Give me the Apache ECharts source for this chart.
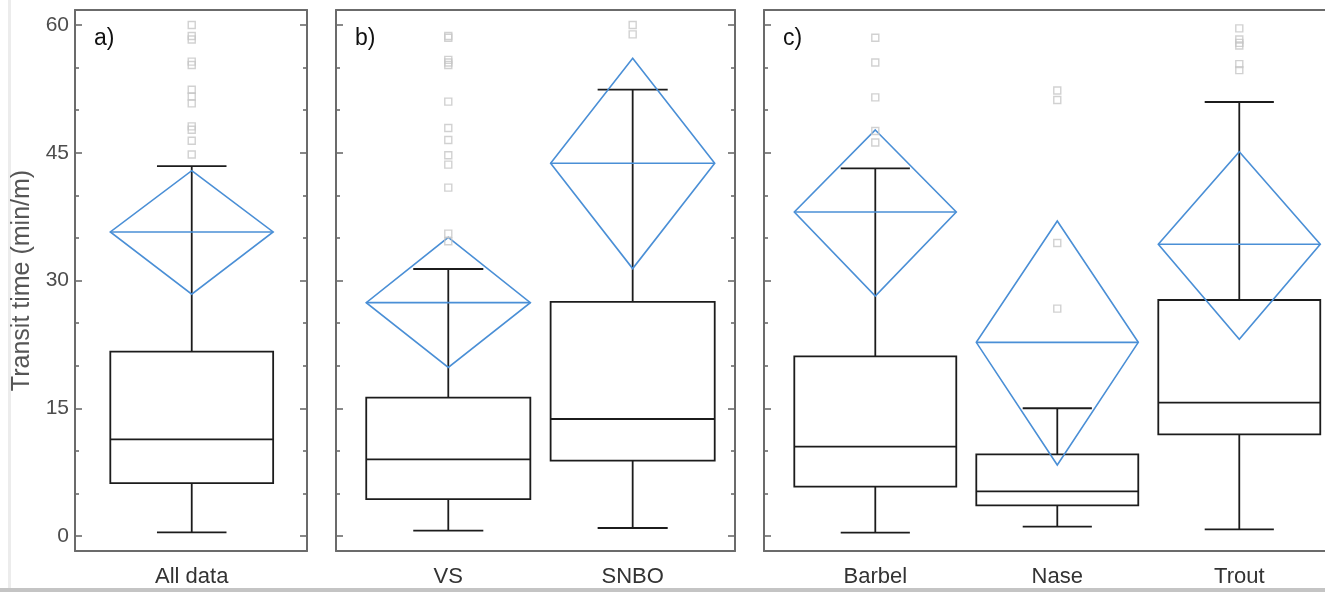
<!DOCTYPE html>
<html>
<head>
<meta charset="utf-8">
<title>Transit time</title>
<script src="https://cdn.jsdelivr.net/npm/echarts@6/dist/echarts.min.js"></script>
<style>
  html, body { margin: 0; padding: 0; background: #fff; }
  #chart { width: 1325px; height: 592px; }
</style>
</head>
<body>
<div id="chart"></div>
<script>
// ---- data ----
const catsA = ['All data']
const catsB = ['VS', 'SNBO']
const catsC = ['Barbel', 'Nase', 'Trout']

// box stats: [whisker low, Q1, median, Q3, whisker high]
const boxAll = [0.43, 6.22, 11.35, 21.64, 43.44]
const boxVS = [0.63, 4.34, 9.0, 16.24, 31.35]
const boxSNBO = [0.94, 8.85, 13.74, 27.5, 52.4]
const boxBarbel = [0.39, 5.79, 10.49, 21.1, 43.17]
const boxNase = [1.1, 3.6, 5.25, 9.59, 15.0]
const boxTrout = [0.79, 11.94, 15.65, 27.71, 50.96]

// mean diamonds: [lower, mean, upper]
const diaAll = [28.4, 35.7, 42.9]
const diaVS = [19.8, 27.4, 35.07]
const diaSNBO = [31.4, 43.76, 56.1]
const diaBarbel = [28.18, 38.04, 47.67]
const diaNase = [8.34, 22.74, 36.98]
const diaTrout = [23.09, 34.25, 45.12]

// outliers
const outAll = [60.0, 58.7, 58.3, 55.7, 55.3, 52.4, 51.6, 50.8, 48.1, 47.7, 46.4, 44.8]
const outVS = [58.7, 58.5, 55.9, 55.6, 55.3, 51.0, 47.9, 46.5, 44.7, 43.6, 40.9, 35.5, 34.6]
const outSNBO = [60.0, 58.9]
const outBarbel = [58.5, 55.6, 51.5, 47.55, 46.2]
const outNase = [52.3, 51.2, 34.4, 26.7]
const outTrout = [59.6, 58.3, 57.9, 57.6, 55.4, 54.7]

const majorTicks = [0, 15, 30, 45, 60]
const minorTicks = [5, 10, 20, 25, 35, 40, 50, 55]
const panelTags = ['a)', 'b)', 'c)']
const yTitle = 'Transit time (min/m)'

// ---- layout ----
const FONT = '"Liberation Sans", Arial, sans-serif'
const FRAME = '#6b6b6b'
const INK = '#1c1c1c'
const BLUE = '#4a8fd6'
const Y_MIN = -1.76
const Y_MAX = 61.76
const BOX_HALF = 0.445
const CAP_HALF = 0.19

// panel c runs past the right edge of the picture, so its right side is not drawn
const panels = [
  { cats: catsA, boxes: [boxAll], dias: [diaAll], outs: [outAll],
    left: 75, width: 232, xMin: 0.362, xMax: 1.630, rightSide: true },
  { cats: catsB, boxes: [boxVS, boxSNBO], dias: [diaVS, diaSNBO], outs: [outVS, outSNBO],
    left: 336, width: 399, xMin: 0.391, xMax: 2.555, rightSide: true },
  { cats: catsC, boxes: [boxBarbel, boxNase, boxTrout], dias: [diaBarbel, diaNase, diaTrout],
    outs: [outBarbel, outNase, outTrout],
    left: 764, width: 561, xMin: 0.3885, xMax: 3.471, rightSide: false }
]

function renderBox (params, api) {
  const x = api.value(0)
  const hw = api.size([BOX_HALF, 0])[0]
  const cw = api.size([CAP_HALF, 0])[0]
  const lo = api.coord([x, api.value(1)])
  const q1 = api.coord([x, api.value(2)])
  const md = api.coord([x, api.value(3)])
  const q3 = api.coord([x, api.value(4)])
  const hi = api.coord([x, api.value(5)])
  const st = { stroke: INK, lineWidth: 1.8, fill: null }
  const line = (x1, y1, x2, y2) => ({ type: 'line', shape: { x1, y1, x2, y2 }, style: st })
  return {
    type: 'group',
    children: [
      line(lo[0], lo[1], q1[0], q1[1]),
      line(q3[0], q3[1], hi[0], hi[1]),
      line(lo[0] - cw, lo[1], lo[0] + cw, lo[1]),
      line(hi[0] - cw, hi[1], hi[0] + cw, hi[1]),
      { type: 'rect', shape: { x: q3[0] - hw, y: q3[1], width: hw * 2, height: q1[1] - q3[1] }, style: st },
      line(md[0] - hw, md[1], md[0] + hw, md[1])
    ]
  }
}

function renderDiamond (params, api) {
  const x = api.value(0)
  const hw = api.size([BOX_HALF, 0])[0]
  const lo = api.coord([x, api.value(1)])
  const mn = api.coord([x, api.value(2)])
  const up = api.coord([x, api.value(3)])
  const st = { stroke: BLUE, lineWidth: 1.6, fill: null }
  return {
    type: 'group',
    children: [
      { type: 'polygon', shape: { points: [[up[0], up[1]], [mn[0] + hw, mn[1]], [lo[0], lo[1]], [mn[0] - hw, mn[1]]] }, style: st },
      { type: 'line', shape: { x1: mn[0] - hw, y1: mn[1], x2: mn[0] + hw, y2: mn[1] }, style: st }
    ]
  }
}

const grid = []
const xAxis = []
const yAxis = []
const series = []
const title = []
const frameLine = { show: true, onZero: false, lineStyle: { color: FRAME, width: 2 } }

panels.forEach((p, i) => {
  grid.push({ left: p.left, top: 10, width: p.width, height: 541 })
  const cats = p.cats
  const firstX = xAxis.length
  xAxis.push({
    type: 'value', gridIndex: i, position: 'bottom', min: p.xMin, max: p.xMax,
    axisLine: frameLine, axisTick: { show: false }, splitLine: { show: false },
    axisLabel: {
      customValues: cats.map((c, k) => k + 1),
      formatter: v => cats[Math.round(v) - 1] || '',
      fontFamily: FONT, fontSize: 22, color: '#333', margin: 15
    }
  })
  xAxis.push({
    type: 'value', gridIndex: i, position: 'top', min: p.xMin, max: p.xMax,
    axisLine: frameLine, axisTick: { show: false }, splitLine: { show: false },
    axisLabel: { show: false }
  })
  const firstY = yAxis.length
  // left major, left minor, right major, right minor
  ;[['left', majorTicks, 7], ['left', minorTicks, 4], ['right', majorTicks, 7], ['right', minorTicks, 4]]
    .forEach(([pos, ticks, len], k) => {
      const showLabel = i === 0 && k === 0
      const visible = pos === 'left' || p.rightSide
      yAxis.push({
        type: 'value', gridIndex: i, position: pos, min: Y_MIN, max: Y_MAX,
        show: visible,
        axisLine: k % 2 === 0 ? frameLine : { show: false, onZero: false },
        splitLine: { show: false },
        axisTick: { show: true, inside: true, length: len, customValues: ticks,
          lineStyle: { color: FRAME, width: 1.6 } },
        axisLabel: { show: showLabel, customValues: ticks, inside: false, margin: 6,
          fontFamily: FONT, fontSize: 21, color: '#4d4d4d' },
        name: showLabel ? yTitle : '',
        nameLocation: 'middle', nameGap: 40, nameRotate: 90,
        nameTextStyle: { fontFamily: FONT, fontSize: 25, color: '#555' }
      })
    })

  series.push({
    type: 'custom', xAxisIndex: firstX, yAxisIndex: firstY,
    renderItem: renderBox, silent: true,
    encode: { x: 0, y: [1, 2, 3, 4, 5] },
    data: p.boxes.map((b, k) => [k + 1].concat(b))
  })
  series.push({
    type: 'custom', xAxisIndex: firstX, yAxisIndex: firstY,
    renderItem: renderDiamond, silent: true,
    encode: { x: 0, y: [1, 2, 3] },
    data: p.dias.map((d, k) => [k + 1].concat(d))
  })
  const pts = []
  p.outs.forEach((arr, k) => arr.forEach(v => pts.push([k + 1, v])))
  series.push({
    type: 'scatter', xAxisIndex: firstX, yAxisIndex: firstY,
    symbol: 'rect', symbolSize: 7, silent: true,
    itemStyle: { color: 'rgba(0,0,0,0)', borderColor: '#c6c6c6', borderWidth: 1.4 },
    data: pts
  })

  title.push({
    text: panelTags[i], left: p.left + 14, top: 22,
    textStyle: { fontFamily: FONT, fontSize: 23, fontWeight: 'normal', color: '#111' }
  })
})

const chart = echarts.init(document.getElementById('chart'), null, { renderer: 'canvas' })
chart.setOption({
  animation: false,
  backgroundColor: '#fff',
  title,
  grid,
  xAxis,
  yAxis,
  series,
  graphic: [
    { type: 'rect', left: 8, top: 0, shape: { width: 3, height: 588 }, style: { fill: '#ececec' }, silent: true },
    { type: 'rect', left: 0, top: 588, shape: { width: 1325, height: 4 }, style: { fill: '#c4c4c4' }, silent: true }
  ]
})
</script>
</body>
</html>
